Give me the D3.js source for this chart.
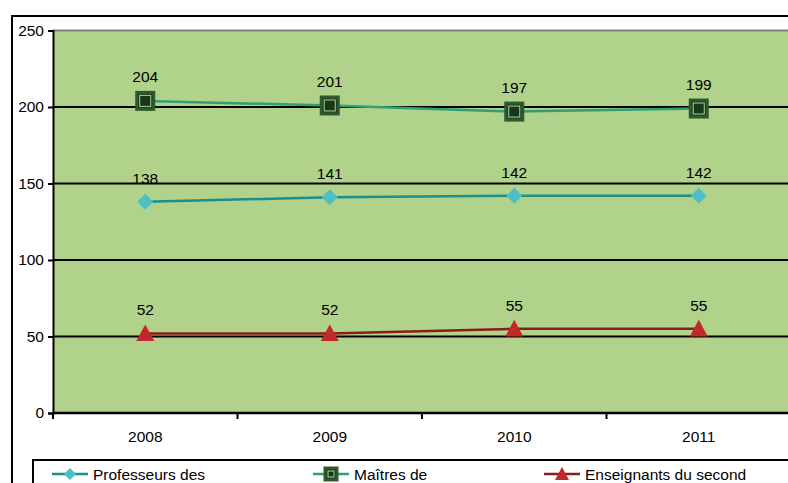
<!DOCTYPE html>
<html><head><meta charset="utf-8">
<script src="https://cdn.jsdelivr.net/npm/d3@7"></script>
<style>html,body{margin:0;padding:0;background:#fff;overflow:hidden}svg{display:block;font-family:"Liberation Sans",Arial,sans-serif}</style>
</head><body>
<svg id="c" width="788" height="483"></svg>
<script>
const years = ["2008","2009","2010","2011"];
const professeurs = [138,141,142,142];
const maitres = [204,201,197,199];
const enseignants = [52,52,55,55];
const yTicks = [0,50,100,150,200,250];
const seriesNames = ["Professeurs des","Maîtres de","Enseignants du second"];

const FS = 15.5, FF = "Liberation Sans, Arial, sans-serif";
const svg = d3.select("#c");
const L = 53, R = 791, T = 30.5, B = 413;
const x = d3.scaleBand().domain(years).range([L,R]);
const y = d3.scaleLinear().domain([0,250]).range([B,T]);

// outer frame
svg.append("rect").attr("x",12).attr("y",16).attr("width",800).attr("height",500)
  .attr("fill","#fff").attr("stroke","#000").attr("stroke-width",2);
// plot area
svg.append("rect").attr("x",L).attr("y",T).attr("width",R-L).attr("height",B-T).attr("fill","#b0d28a");
svg.append("line").attr("x1",L).attr("x2",R).attr("y1",T).attr("y2",T).attr("stroke","#808080").attr("stroke-width",2);
// gridlines
svg.selectAll(".g").data(yTicks.filter(d=>d>0&&d<250)).enter().append("line")
  .attr("x1",L).attr("x2",R).attr("y1",d=>y(d)).attr("y2",d=>y(d)).attr("stroke","#000").attr("stroke-width",2);

// y axis
const ya = svg.append("g").attr("transform",`translate(${L},0)`)
  .call(d3.axisLeft(y).tickValues(yTicks).tickSize(5).tickPadding(4));
ya.select(".domain").attr("stroke","#000").attr("stroke-width",2);
ya.selectAll(".tick line").attr("stroke","#000").attr("stroke-width",2);
ya.selectAll("text").attr("font-size",FS).attr("fill","#000").attr("font-family",FF);

// x axis
const xa = svg.append("g").attr("transform",`translate(0,${B})`)
  .call(d3.axisBottom(x).tickSize(0).tickPadding(18));
xa.select(".domain").remove();
xa.selectAll("text").attr("font-size",FS).attr("fill","#000").attr("font-family",FF);
svg.append("line").attr("x1",L).attr("x2",R).attr("y1",B).attr("y2",B).attr("stroke","#000").attr("stroke-width",2.5);
const bounds = years.map(d=>x(d)).concat([x(years[3])+x.bandwidth()]);
svg.selectAll(".xt").data(bounds).enter().append("line")
  .attr("x1",d=>d).attr("x2",d=>d).attr("y1",B).attr("y2",B+6).attr("stroke","#000").attr("stroke-width",2);

const cx = d => x(d)+x.bandwidth()/2;
const line = d3.line().x((d,i)=>cx(years[i])).y(d=>y(d));

// lines
svg.append("path").datum(professeurs).attr("d",line).attr("fill","none").attr("stroke","#1b8f8c").attr("stroke-width",2.5);
svg.append("path").datum(maitres).attr("d",line).attr("fill","none").attr("stroke","#2fa06f").attr("stroke-width",2.5);
svg.append("path").datum(enseignants).attr("d",line).attr("fill","none").attr("stroke","#8b1c1c").attr("stroke-width",2.5);

// markers
function diamond(g,px,py,s){g.append("path").attr("d",`M${px},${py-s}L${px+s},${py}L${px},${py+s}L${px-s},${py}Z`).attr("fill","#4fbfc6");}
function square(g,px,py,s){
  g.append("rect").attr("x",px-s).attr("y",py-s).attr("width",2*s).attr("height",2*s).attr("fill","#1d3a1d").attr("stroke","#2d5a2d").attr("stroke-width",3);
  g.append("rect").attr("x",px-s+3).attr("y",py-s+3).attr("width",2*s-6).attr("height",2*s-6).attr("fill","#1a361a").attr("stroke","#a8d29a").attr("stroke-width",1);
}
function tri(g,px,py,s){g.append("path").attr("d",`M${px},${py-s}L${px+s},${py+s*0.85}L${px-s},${py+s*0.85}Z`).attr("fill","#c0282a");}

const mg = svg.append("g");
professeurs.forEach((v,i)=>diamond(mg,cx(years[i]),y(v),8));
maitres.forEach((v,i)=>square(mg,cx(years[i]),y(v),8.5));
enseignants.forEach((v,i)=>tri(mg,cx(years[i]),y(v),9));

// labels
function labels(data,off){
  svg.append("g").selectAll("text").data(data).enter().append("text")
    .attr("x",(d,i)=>cx(years[i])).attr("y",d=>y(d)-off).attr("text-anchor","middle")
    .attr("font-size",FS).attr("font-family",FF).attr("fill","#000").text(d=>d);
}
labels(professeurs,18);
labels(maitres,18.5);
labels(enseignants,18);

// legend
svg.append("rect").attr("x",33).attr("y",460).attr("width",800).attr("height",60).attr("fill","#fff").attr("stroke","#000").attr("stroke-width",2);
const lx = [52,313,544];
const lg = svg.append("g");
const ly = 474;
lg.append("line").attr("x1",lx[0]).attr("x2",lx[0]+36).attr("y1",ly).attr("y2",ly).attr("stroke","#1b8f8c").attr("stroke-width",2.5);
diamond(lg,lx[0]+18,ly,6);
lg.append("line").attr("x1",lx[1]).attr("x2",lx[1]+36).attr("y1",ly).attr("y2",ly).attr("stroke","#2fa06f").attr("stroke-width",2.5);
square(lg,lx[1]+18,ly,6);
lg.append("line").attr("x1",lx[2]).attr("x2",lx[2]+36).attr("y1",ly).attr("y2",ly).attr("stroke","#8b1c1c").attr("stroke-width",2.5);
tri(lg,lx[2]+18,ly,7);
lg.selectAll("text").data(seriesNames).enter().append("text")
  .attr("x",(d,i)=>lx[i]+41).attr("y",ly+5.5).attr("font-size",FS).attr("font-family",FF).attr("fill","#000").text(d=>d);
</script>
</body></html>
